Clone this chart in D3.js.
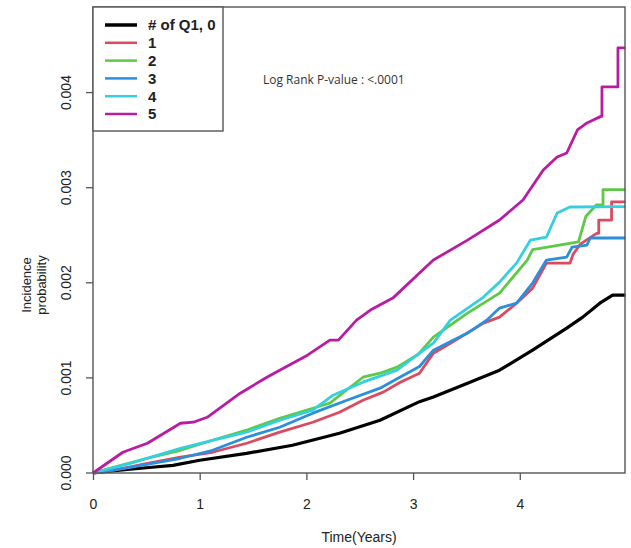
<!DOCTYPE html>
<html><head><meta charset="utf-8">
<script src="https://cdn.jsdelivr.net/npm/d3@7"></script>
<style>body{margin:0;background:#fff;} svg{display:block;font-family:"Liberation Sans",Arial,sans-serif;}</style>
</head><body>
<svg id="c" width="631" height="548"></svg>
<script>
const groupNames = ["# of Q1, 0", "1", "2", "3", "4", "5"];
const groupColors = ["#000000", "#DB4A5F", "#5EC847", "#2A8FDD", "#34CFE0", "#B81CA3"];
const xTicks = [0, 1, 2, 3, 4];
const yTicks = [0, 0.001, 0.002, 0.003, 0.004];
const yTickLabels = ["0.000", "0.001", "0.002", "0.003", "0.004"];

const series0 = [[0,0],[0.25,0.00003],[0.5,0.000055],[0.75,0.00008],[1.0,0.000134],[1.44,0.000207],[1.87,0.000292],[2.31,0.000418],[2.69,0.000555],[3.06,0.00075],[3.19,0.0008],[3.51,0.000944],[3.81,0.001081],[4.12,0.001292],[4.44,0.001523],[4.59,0.001639],[4.75,0.001786],[4.87,0.001871],[4.99,0.001871]];
const series1 = [[0,0],[0.2,0.00003],[0.51,0.000102],[0.82,0.000166],[1.12,0.000218],[1.44,0.000313],[1.75,0.000429],[2.06,0.000534],[2.31,0.000639],[2.53,0.000765],[2.72,0.00085],[2.88,0.000955],[3.06,0.001049],[3.19,0.00126],[3.35,0.001365],[3.66,0.001576],[3.81,0.001639],[3.97,0.001786],[4.12,0.001944],[4.25,0.002207],[4.47,0.002207],[4.5,0.0023],[4.57,0.00241],[4.72,0.00252],[4.74,0.00252],[4.74,0.00266],[4.86,0.00266],[4.86,0.00285],[4.99,0.00285]];
const series2 = [[0,0],[0.19,0.00006],[0.51,0.000155],[0.82,0.000239],[1.12,0.000344],[1.44,0.00045],[1.75,0.000576],[2.06,0.000681],[2.22,0.000734],[2.53,0.001007],[2.69,0.001049],[2.85,0.001113],[3.05,0.001249],[3.19,0.001429],[3.51,0.001681],[3.81,0.001892],[4.07,0.002239],[4.12,0.00235],[4.55,0.00243],[4.62,0.0027],[4.72,0.00282],[4.78,0.00282],[4.78,0.00298],[4.99,0.00298]];
const series3 = [[0,0],[0.35,0.00006],[0.82,0.000155],[1.12,0.000239],[1.44,0.000376],[1.75,0.000481],[2.06,0.000629],[2.38,0.000765],[2.69,0.000892],[2.88,0.00101],[3.06,0.00112],[3.19,0.001292],[3.51,0.001471],[3.69,0.001607],[3.81,0.001734],[3.97,0.001786],[4.12,0.001997],[4.25,0.002239],[4.44,0.002271],[4.49,0.002376],[4.63,0.002397],[4.66,0.002471],[4.99,0.002471]];
const series4 = [[0,0],[0.35,0.000102],[0.82,0.00026],[1.12,0.000344],[1.44,0.000429],[1.75,0.000555],[2.06,0.00066],[2.25,0.000818],[2.53,0.000955],[2.85,0.001081],[3.06,0.00126],[3.19,0.001365],[3.35,0.001607],[3.66,0.00185],[3.81,0.002007],[3.97,0.002207],[4.10,0.002449],[4.25,0.002481],[4.35,0.002734],[4.47,0.002797],[4.99,0.0028]];
const series5 = [[0,0],[0.28,0.000218],[0.51,0.000313],[0.82,0.000523],[0.94,0.000534],[1.07,0.000586],[1.38,0.000839],[1.63,0.001007],[1.75,0.001081],[2.01,0.001239],[2.22,0.001397],[2.30,0.001397],[2.47,0.001607],[2.60,0.001713],[2.81,0.001839],[3.06,0.002102],[3.19,0.002239],[3.51,0.002449],[3.81,0.00266],[4.03,0.002871],[4.22,0.003186],[4.35,0.003323],[4.44,0.003365],[4.54,0.003607],[4.63,0.003681],[4.76,0.00375],[4.77,0.00375],[4.77,0.00406],[4.92,0.00406],[4.92,0.00447],[4.99,0.00447]];
const allSeries = [series0, series1, series2, series3, series4, series5];

const L = 93, R = 625, T = 7, B = 473;
const x = d3.scaleLinear().domain([0, 4.986]).range([L, R]);
const y = d3.scaleLinear().domain([0, 0.0049]).range([B, T]);
const svg = d3.select("#c");
const axisColor = "#555";

// curves
const line = d3.line().x(d => x(d[0])).y(d => y(d[1])).curve(d3.curveLinear);
allSeries.forEach((s, i) => {
  svg.append("path").datum(s).attr("d", line).attr("fill", "none")
    .attr("stroke", groupColors[i]).attr("stroke-width", i === 0 ? 3.2 : 2.8)
    .attr("stroke-linejoin", "round");
});

// box
svg.append("rect").attr("x", L).attr("y", T).attr("width", R - L).attr("height", B - T)
  .attr("fill", "none").attr("stroke", axisColor).attr("stroke-width", 1.4);

// axes
const xAxis = d3.axisBottom(x).tickValues(xTicks).tickSize(7).tickPadding(19).tickFormat(d3.format("d"));
const gx = svg.append("g").attr("transform", `translate(0,${B})`).call(xAxis);
gx.select(".domain").remove();
gx.selectAll("line").attr("stroke", axisColor).attr("stroke-width", 1.3);
gx.selectAll("text").attr("fill", "#222").style("font-size", "14px").style("font-family", "Liberation Sans, Arial, sans-serif");

const yAxis = d3.axisLeft(y).tickValues(yTicks).tickSize(7).tickFormat((d, i) => yTickLabels[i]);
const gy = svg.append("g").attr("transform", `translate(${L},0)`).call(yAxis);
gy.select(".domain").remove();
gy.selectAll("line").attr("stroke", axisColor).attr("stroke-width", 1.3);
gy.selectAll(".tick").attr("transform", null);
gy.selectAll(".tick line").attr("y1", d => y(d)).attr("y2", d => y(d));
gy.selectAll(".tick text").attr("fill", "#222").style("font-size", "14px")
  .style("font-family", "Liberation Sans, Arial, sans-serif")
  .attr("text-anchor", "middle").attr("x", 0).attr("y", 0).attr("dy", "0.35em")
  .attr("transform", d => `translate(-27,${y(d)}) rotate(-90)`);

// axis titles
svg.append("text").attr("x", (L + R) / 2).attr("y", 542).attr("text-anchor", "middle")
  .attr("fill", "#222").style("font-size", "14px").text("Time(Years)");
const yt = svg.append("text").attr("transform", `translate(26,285) rotate(-90)`)
  .attr("text-anchor", "middle").attr("fill", "#222").style("font-size", "13px");
yt.append("tspan").attr("x", 0).attr("dy", "0.35em").text("Incidence");
yt.append("tspan").attr("x", 0).attr("dy", "1.15em").text("probability");

// legend
svg.append("rect").attr("x", L).attr("y", T).attr("width", 130).attr("height", 124)
  .attr("fill", "#fff").attr("stroke", axisColor).attr("stroke-width", 1.4);
groupNames.forEach((n, i) => {
  const yy = 25 + i * 17.8;
  svg.append("line").attr("x1", 105).attr("x2", 137).attr("y1", yy).attr("y2", yy)
    .attr("stroke", groupColors[i]).attr("stroke-width", i === 0 ? 3.5 : 2.5);
  svg.append("text").attr("x", 148).attr("y", yy).attr("dy", "0.36em")
    .attr("fill", "#222").style("font-size", "15px").style("font-weight", "bold").text(n);
});

svg.append("text").attr("x", 263).attr("y", 80).attr("dy", "0.35em")
  .attr("fill", "#333").style("font-size", "12px").style("font-family", "Open Sans, sans-serif")
  .text("Log Rank P-value : <.0001");
</script>
</body></html>
